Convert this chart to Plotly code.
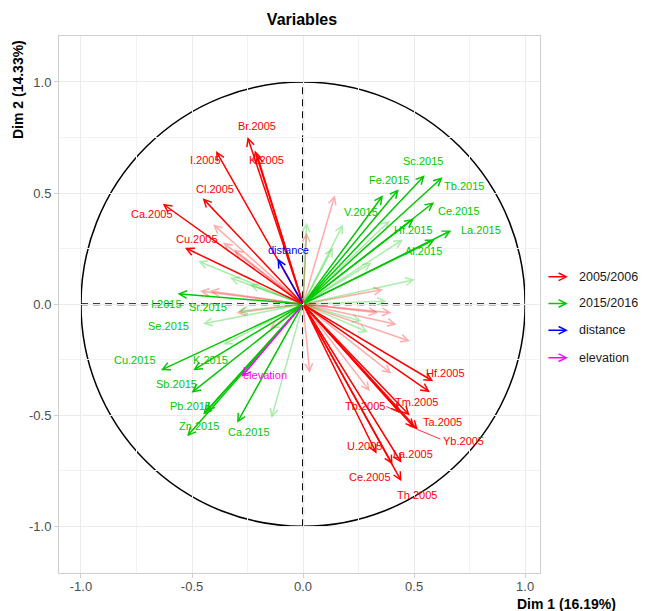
import plotly.graph_objects as go

# ---------------- data (coordinates on Dim 1 / Dim 2) ----------------
RED_NAMES = ["Br.2005", "K.2005", "I.2005", "Cl.2005", "Ca.2005", "Cu.2005",
             "Hf.2005", "Tb.2005", "Tm.2005", "Ta.2005", "Yb.2005", "U.2005",
             "La.2005", "Ce.2005", "Th.2005"]
RED_X = [-0.250, -0.217, -0.392, -0.452, -0.632, -0.532,
         0.586, 0.436, 0.480, 0.502, 0.517, 0.331, 0.443, 0.403, 0.443]
RED_Y = [0.752, 0.692, 0.689, 0.477, 0.452, 0.254,
         -0.347, -0.489, -0.501, -0.557, -0.565, -0.673, -0.714, -0.722, -0.797]
RED_UNLABELED_X = [-0.208, 0.571]
RED_UNLABELED_Y = [0.674, -0.396]

GREEN_NAMES = ["I.2015", "Sr.2015", "Se.2015", "Cu.2015", "K.2015", "Sb.2015",
               "Pb.2015", "Zn.2015", "Ca.2015", "Sc.2015", "Tb.2015", "Fe.2015",
               "V.2015", "Ce.2015", "Hf.2015", "La.2015", "Al.2015"]
GREEN_X = [-0.565, -0.292, -0.450, -0.640, -0.495, -0.502, -0.450, -0.522, -0.297,
           0.548, 0.628, 0.431, 0.180, 0.590, 0.499, 0.668, 0.593]
GREEN_Y = [0.047, -0.032, -0.088, -0.297, -0.297, -0.399, -0.497, -0.595, -0.534,
           0.580, 0.571, 0.517, 0.359, 0.459, 0.385, 0.332, 0.291]
GREEN_UNLABELED_X = [-0.437, 0.360]
GREEN_UNLABELED_Y = [-0.484, 0.490]

SUPP_NAMES = ["distance", "elevation"]
SUPP_X = [-0.115, -0.277]
SUPP_Y = [0.205, -0.327]

FADED_RED_X = [-0.405, -0.360, -0.311, -0.464, -0.420, -0.299, -0.149, 0.030, 0.143,
               0.016, 0.360, 0.398, 0.338, 0.421, 0.481, 0.398, 0.301]
FADED_RED_Y = [0.359, 0.277, 0.246, 0.059, 0.059, -0.039, -0.114, -0.309, 0.490,
               0.322, 0.066, -0.039, -0.039, -0.091, -0.167, -0.312, -0.392]
FADED_GREEN_X = [-0.472, -0.329, -0.240, -0.360, -0.142, 0.391, 0.450, 0.308, 0.135,
                 0.503, 0.376, 0.016, 0.263, 0.293]
FADED_GREEN_Y = [0.194, 0.119, 0.089, -0.182, -0.512, 0.377, 0.291, 0.186, 0.254,
                 0.111, 0.014, 0.367, -0.077, -0.126]

LEGEND_LABELS = ["2005/2006", "2015/2016", "distance", "elevation"]
X_TICKS = [-1.0, -0.5, 0.0, 0.5, 1.0]
X_TICK_LABELS = ["-1.0", "-0.5", "0.0", "0.5", "1.0"]
Y_TICKS = [-1.0, -0.5, 0.0, 0.5, 1.0]
Y_TICK_LABELS = ["-1.0", "-0.5", "0.0", "0.5", "1.0"]

# ---------------- styles ----------------
RED = "#FF0000"
GREEN = "#00C800"
BLUE = "#0000FF"
MAGENTA = "#FF00FF"
FADED_RED = "rgba(255,0,0,0.32)"
FADED_GREEN = "rgba(0,200,0,0.32)"
FONT = "Liberation Sans, Arial, sans-serif"
FADED_LABELED = {"Sr.2015", "Se.2015", "V.2015"}

# label offsets from arrow tip in pixels (dx right, dy down)
LABEL_OFFSET = {
    "Br.2005": (9, -11), "K.2005": (12, 10), "I.2005": (-11, 9), "Cl.2005": (12, -9),
    "Ca.2005": (-11, 10), "Cu.2005": (12, -9), "Hf.2005": (12, -8), "Tb.2005": (-35, -7),
    "Tm.2005": (7, -13), "Ta.2005": (28, -6), "Yb.2005": (46, 11), "U.2005": (-12, -8),
    "La.2005": (12, -9), "Ce.2005": (-23, 12), "Th.2005": (16, 14),
    "I.2015": (-11, 10), "Sr.2015": (-30, -4), "Se.2015": (-35, 2), "Cu.2015": (-26, -10),
    "K.2015": (17, -10), "Sb.2015": (-15, -9), "Pb.2015": (-13, -9), "Zn.2015": (12, -10),
    "Ca.2015": (12, 9), "Sc.2015": (-2, -14), "Tb.2015": (21, 9), "Fe.2015": (-10, -9),
    "V.2015": (18, -12), "Ce.2015": (25, 9), "Hf.2015": (0, 11), "La.2015": (30, 0),
    "Al.2015": (-11, 11), "distance": (11, -9), "elevation": (23, -2),
}
CONNECTORS = {"Tb.2005": (-15, -7), "Yb.2005": (24, 10)}

# page body has an 8px margin: figure is sized/offset so the panel lands
# at the same window pixels as the reference
FIG_W, FIG_H = 638, 603

fig = go.Figure()
annotations = []


def arrow(x, y, color, width=1.5):
    annotations.append(dict(
        x=x, y=y, ax=0, ay=0, xref="x", yref="y", axref="x", ayref="y",
        showarrow=True, arrowhead=5, arrowsize=1.0, arrowwidth=width,
        arrowcolor=color, text="", standoff=0))


def label(name, x, y, color):
    dx, dy = LABEL_OFFSET.get(name, (0, -12))
    annotations.append(dict(
        x=x, y=y, xref="x", yref="y", text=name, showarrow=False,
        xshift=dx, yshift=-dy, font=dict(family=FONT, size=11, color=color)))
    if name in CONNECTORS:
        cx, cy = CONNECTORS[name]
        annotations.append(dict(
            x=x, y=y, xref="x", yref="y", ax=cx, ay=cy, showarrow=True,
            arrowhead=0, arrowwidth=0.8, arrowcolor=color, text="", standoff=0))


# faded arrows
for x, y in zip(FADED_RED_X, FADED_RED_Y):
    arrow(x, y, FADED_RED)
for x, y in zip(FADED_GREEN_X, FADED_GREEN_Y):
    arrow(x, y, FADED_GREEN)
for n, x, y in zip(GREEN_NAMES, GREEN_X, GREEN_Y):
    if n in FADED_LABELED:
        arrow(x, y, FADED_GREEN)

# strong arrows
for x, y in zip(GREEN_UNLABELED_X, GREEN_UNLABELED_Y):
    arrow(x, y, GREEN)
for n, x, y in zip(GREEN_NAMES, GREEN_X, GREEN_Y):
    if n not in FADED_LABELED:
        arrow(x, y, GREEN)
for x, y in zip(RED_UNLABELED_X, RED_UNLABELED_Y):
    arrow(x, y, RED)
for x, y in zip(RED_X, RED_Y):
    arrow(x, y, RED)
for x, y, c in zip(SUPP_X, SUPP_Y, [BLUE, MAGENTA]):
    arrow(x, y, c)

# labels
for n, x, y in zip(GREEN_NAMES, GREEN_X, GREEN_Y):
    label(n, x, y, GREEN)
for n, x, y in zip(RED_NAMES, RED_X, RED_Y):
    label(n, x, y, RED)
for n, x, y, c in zip(SUPP_NAMES, SUPP_X, SUPP_Y, [BLUE, MAGENTA]):
    label(n, x, y, c)

# manual legend
legend_colors = [RED, GREEN, BLUE, MAGENTA]
legend_y = [0.5515, 0.502, 0.452, 0.401]
for lab, c, ly in zip(LEGEND_LABELS, legend_colors, legend_y):
    annotations.append(dict(
        x=1.058, y=ly, xref="paper", yref="paper", ax=-21, ay=0,
        showarrow=True, arrowhead=5, arrowsize=1.0, arrowwidth=1.5,
        arrowcolor=c, text="", standoff=0))
    annotations.append(dict(
        x=1.077, y=ly, xref="paper", yref="paper", text=lab, showarrow=False,
        xanchor="left", yanchor="middle",
        font=dict(family=FONT, size=12.5, color="#1A1A1A")))

# axis titles
annotations.append(dict(
    x=1.055, y=-0.0585, xref="paper", yref="paper", text="<b>Dim 1 (16.19%)</b>",
    showarrow=False, xanchor="center", yanchor="middle",
    font=dict(family=FONT, size=14, color="black")))
annotations.append(dict(
    x=-0.0852, y=0.8994, xref="paper", yref="paper", text="<b>Dim 2 (14.33%)</b>",
    showarrow=False, xanchor="center", yanchor="middle", textangle=-90,
    font=dict(family=FONT, size=14, color="black")))

shapes = [
    dict(type="circle", xref="x", yref="y", x0=-1, x1=1, y0=-1, y1=1,
         line=dict(color="black", width=1.5), layer="below"),
    dict(type="line", xref="x", yref="y", x0=-1, x1=1, y0=0, y1=0,
         line=dict(color="black", width=2, dash="7px,5px"), layer="below"),
    dict(type="line", xref="x", yref="y", x0=0, x1=0, y0=-1, y1=1,
         line=dict(color="black", width=2, dash="7px,5px"), layer="below"),
]

axis_common = dict(
    showgrid=True, gridcolor="#EBEBEB", gridwidth=1,
    zeroline=False, showline=True, mirror=True, linecolor="#CFCFCF", linewidth=1,
    ticks="outside", ticklen=4, tickcolor="#CFCFCF",
    tickfont=dict(family=FONT, size=13, color="#4D4D4D"),
    minor=dict(showgrid=True, gridcolor="#F3F3F3", dtick=0.25, tick0=0),
)

fig.update_layout(
    width=FIG_W, height=FIG_H, autosize=False,
    margin=dict(l=51, r=106, t=28, b=38),
    paper_bgcolor="white", plot_bgcolor="white",
    title=dict(text="<b>Variables</b>", x=0.4608, y=0.9818, xanchor="center",
               yanchor="middle", xref="container", yref="container",
               font=dict(family=FONT, size=16, color="black")),
    xaxis=dict(range=[-1.099, 1.067], tickvals=X_TICKS, ticktext=X_TICK_LABELS,
               ticklabelstandoff=-3, **axis_common),
    yaxis=dict(range=[-1.210, 1.207], tickvals=Y_TICKS, ticktext=Y_TICK_LABELS,
               **axis_common),
    shapes=shapes,
    annotations=annotations,
    showlegend=False,
)

fig.write_html("out.html")
